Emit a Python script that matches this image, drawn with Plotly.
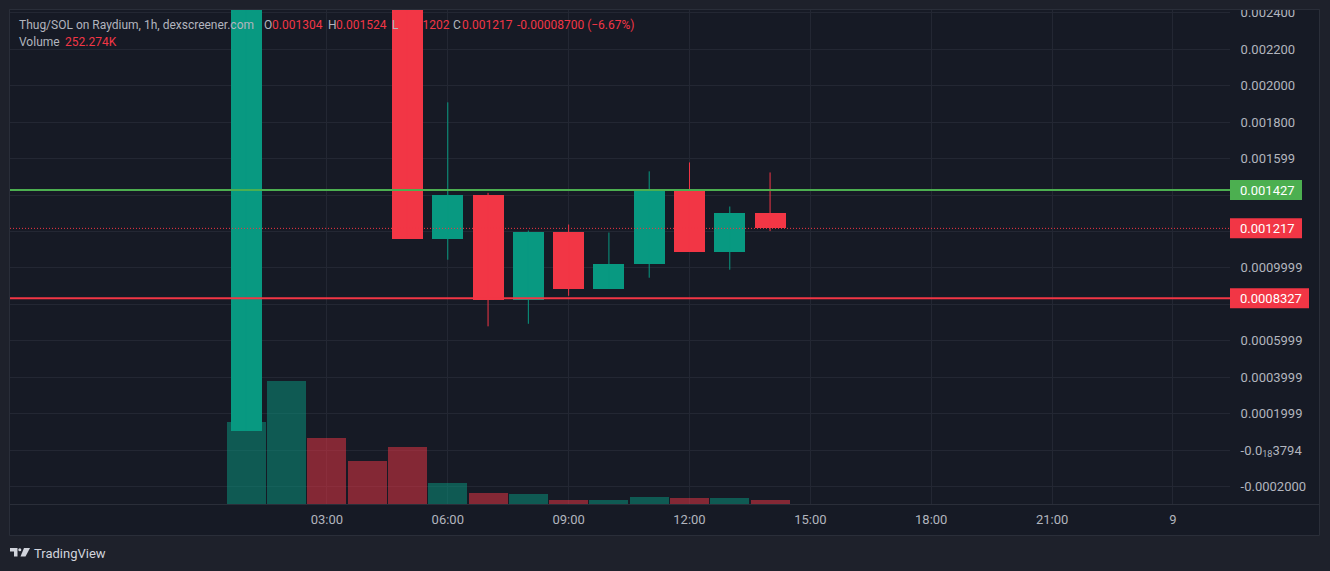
import plotly.graph_objects as go

# ---------------- data ----------------
times = ["2024-05-08 01:00", "2024-05-08 02:00", "2024-05-08 03:00", "2024-05-08 04:00",
         "2024-05-08 05:00", "2024-05-08 06:00", "2024-05-08 07:00", "2024-05-08 08:00",
         "2024-05-08 09:00", "2024-05-08 10:00", "2024-05-08 11:00", "2024-05-08 12:00",
         "2024-05-08 13:00", "2024-05-08 14:00"]
opens = [0.000105, 0.00380, 0.00450, 0.00330, 0.00280, 0.001161, 0.001398, 0.000825,
         0.001199, 0.000886, 0.001020, 0.001420, 0.001089, 0.001304]
highs = [0.00420, 0.00500, 0.00470, 0.00360, 0.00290, 0.001909, 0.001412, 0.001205,
         0.001238, 0.001194, 0.001530, 0.001579, 0.001337, 0.001524]
lows = [0.000105, 0.00310, 0.00300, 0.00260, 0.001161, 0.001045, 0.000679, 0.000693,
        0.000847, 0.000886, 0.000946, 0.001089, 0.000990, 0.001202]
closes = [0.00380, 0.00450, 0.00330, 0.00280, 0.001161, 0.001398, 0.000825, 0.001199,
          0.000886, 0.001020, 0.001420, 0.001089, 0.001304, 0.001217]
volumes = [5170000, 7760000, 4160000, 2710000, 3590000, 1320000, 694000, 631000,
           260000, 240000, 440000, 380000, 370000, 252274]

level_high = 0.001427
level_low = 0.0008327
last_price = closes[-1]

price_ticks = [0.0024, 0.0022, 0.0020, 0.0018, 0.0016, 0.0010,
               0.0006, 0.0004, 0.0002, 0.0, -0.0002]
price_tick_text = ["0.002400", "0.002200", "0.002000", "0.001800", "0.001599",
                   "0.0009999", "0.0005999", "0.0003999", "0.0001999",
                   "-0.0<sub>18</sub>3794", "-0.0002000"]
time_ticks = ["2024-05-08 03:00", "2024-05-08 06:00", "2024-05-08 09:00", "2024-05-08 12:00",
              "2024-05-08 15:00", "2024-05-08 18:00", "2024-05-08 21:00", "2024-05-09 00:00"]
time_tick_text = ["03:00", "06:00", "09:00", "12:00", "15:00", "18:00", "21:00", "9"]

# ---------------- style ----------------
UP = "#089981"
DOWN = "#f23645"
UP_VOL = "rgba(8,153,129,0.5)"
DOWN_VOL = "rgba(242,54,69,0.5)"
PANE = "#161a25"
OUTER = "#1e212b"
GRID = "#232733"
BORDER = "#2a2e39"
TXT = "#b2b5be"
FONT = "Roboto"

W, H = 1330, 571
L, R, T, B = 10, 1230, 10, 504  # plot area in pixels


def px(xp):
    return (xp - L) / (R - L)


def py(yp):
    return (B - yp) / (B - T)


HOUR = 3600000
is_up = [c >= o for o, c in zip(opens, closes)]
body_base = [min(o, c) for o, c in zip(opens, closes)]
body_h = [abs(c - o) for o, c in zip(opens, closes)]
body_col = [UP if u else DOWN for u in is_up]
vol_col = [UP_VOL if u else DOWN_VOL for u in is_up]

fig = go.Figure()

fig.add_trace(go.Bar(x=times, y=volumes, marker=dict(color=vol_col, line=dict(width=0)),
                     width=0.968 * HOUR, yaxis="y", hoverinfo="skip"))

fig.add_trace(go.Bar(x=times, y=body_h, base=body_base,
                     marker=dict(color=body_col, line=dict(width=0)),
                     width=0.77 * HOUR, yaxis="y2", hoverinfo="skip"))

for want_up, col in ((True, UP), (False, DOWN)):
    wx, wy = [], []
    for t, hi, lo, u in zip(times, highs, lows, is_up):
        if u == want_up:
            wx += [t, t, None]
            wy += [lo, hi, None]
    fig.add_trace(go.Scatter(x=wx, y=wy, mode="lines", line=dict(color=col, width=1),
                             yaxis="y2", hoverinfo="skip", connectgaps=False))

shapes = [
    # pane background / frame
    dict(type="rect", xref="paper", yref="paper", x0=px(9.5), x1=px(1319.5),
         y0=py(535.5), y1=py(9.5), fillcolor=PANE, line=dict(color=BORDER, width=1),
         layer="below"),
    # clip area above the pane (hides top half of the top price label)
    dict(type="rect", xref="paper", yref="paper", x0=px(1231), x1=px(1330),
         y0=py(9), y1=py(0), fillcolor=OUTER, line=dict(width=0), layer="above"),
    dict(type="line", xref="paper", yref="paper", x0=px(9.5), x1=px(1319.5),
         y0=py(9.5), y1=py(9.5), line=dict(color=BORDER, width=1), layer="above"),
    # time-axis separator
    dict(type="line", xref="paper", yref="paper", x0=px(10), x1=px(1319),
         y0=py(504.5), y1=py(504.5), line=dict(color=BORDER, width=1), layer="above"),
    # price lines
    dict(type="line", xref="paper", yref="y2", x0=0, x1=1, y0=level_high, y1=level_high,
         line=dict(color="#4caf50", width=2), layer="above"),
    dict(type="line", xref="paper", yref="y2", x0=0, x1=1, y0=level_low, y1=level_low,
         line=dict(color=DOWN, width=2), layer="above"),
    dict(type="line", xref="paper", yref="y2", x0=0, x1=1, y0=last_price, y1=last_price,
         line=dict(color=DOWN, width=1, dash="1px,2px"), layer="above"),
]

badges = [(level_high, "0.001427", "#4caf50", 1302),
          (last_price, f"{last_price:.6f}", DOWN, 1302),
          (level_low, "0.0008327", DOWN, 1309)]
annotations = []
for val, txt, col, xr in badges:
    shapes.append(dict(type="rect", xref="paper", yref="y2", x0=1.0, x1=px(xr),
                       ysizemode="pixel", yanchor=val, y0=-10, y1=10,
                       fillcolor=col, line=dict(width=0), layer="above"))
    annotations.append(dict(xref="paper", yref="y2", x=1.0, y=val, xanchor="left",
                            yanchor="middle", xshift=8, text=txt, showarrow=False,
                            font=dict(family=FONT, size=13, color="#ffffff")))

# header legend
chg = closes[-1] - opens[-1]
pct = chg / opens[-1] * 100
head1 = [(18, "Thug/SOL on Raydium, 1h, dexscreener.com", TXT),
         (263, "O", TXT), (271, f"{opens[-1]:.6f}", DOWN),
         (327, "H", TXT), (335, f"{highs[-1]:.6f}", DOWN),
         (391, "L", TXT), (398, f"{lows[-1]:.6f}", DOWN),
         (452, "C", TXT), (461, f"{closes[-1]:.6f}", DOWN),
         (516, f"{chg:.8f} ({pct:+.2f}%)".replace("+", "").replace("(-", "(\u2212"), DOWN)]
head2 = [(18, "Volume", TXT), (64, f"{volumes[-1] / 1000:.3f}K", DOWN)]
for xx, txt, col in head1:
    annotations.append(dict(xref="paper", yref="paper", x=px(xx - 1.5), y=py(25), xanchor="left",
                            yanchor="middle", text=txt, showarrow=False,
                            font=dict(family=FONT, size=12, color=col)))
for xx, txt, col in head2:
    annotations.append(dict(xref="paper", yref="paper", x=px(xx - 1.5), y=py(42), xanchor="left",
                            yanchor="middle", text=txt, showarrow=False,
                            font=dict(family=FONT, size=12, color=col)))

# TradingView logo + word mark
LOGO = "#d1d4dc"
def P(x, y):
    return f"{px(x)},{py(y)}"
shapes.append(dict(type="path", xref="paper", yref="paper",
                   path=f"M{P(10,548)} L{P(17.5,548)} L{P(17.5,556.5)} L{P(14,556.5)} L{P(14,551.5)} L{P(10,551.5)} Z",
                   fillcolor=LOGO, line=dict(width=0)))
shapes.append(dict(type="circle", xref="paper", yref="paper", x0=px(18.3), x1=px(21.3),
                   y0=py(551.3), y1=py(548.3), fillcolor=LOGO, line=dict(width=0)))
shapes.append(dict(type="path", xref="paper", yref="paper",
                   path=f"M{P(24,548)} L{P(30,548)} L{P(25.5,556.5)} L{P(20.5,556.5)} Z",
                   fillcolor=LOGO, line=dict(width=0)))
annotations.append(dict(xref="paper", yref="paper", x=px(32), y=py(553), xanchor="left",
                        yanchor="middle", text="TradingView", showarrow=False,
                        font=dict(family=FONT, size=13, color=LOGO)))

fig.update_layout(
    width=W, height=H,
    margin=dict(l=L, r=W - R, t=T, b=H - B, pad=0, autoexpand=False),
    paper_bgcolor=OUTER, plot_bgcolor=PANE,
    showlegend=False, barmode="overlay", bargap=0,
    xaxis=dict(type="date", range=["2024-05-07 19:08:00", "2024-05-09 01:25:00"],
               tickvals=time_ticks, ticktext=time_tick_text, showgrid=True,
               gridcolor=GRID, gridwidth=1, zeroline=False, showline=False,
               ticks="outside", ticklen=3, tickcolor=PANE, automargin=False,
               tickfont=dict(family=FONT, size=13, color=TXT)),
    yaxis=dict(range=[0, 31160000], visible=False, fixedrange=True, showgrid=False,
               automargin=False),
    yaxis2=dict(overlaying="y", side="right", range=[-0.0002965, 0.002416],
                tickvals=price_ticks, ticktext=price_tick_text, showgrid=True,
                gridcolor=GRID, gridwidth=1, zeroline=False, showline=False,
                ticks="outside", ticklen=7, tickcolor=PANE, automargin=False,
                minor=dict(tick0=0, dtick=0.0002, showgrid=True, gridcolor=GRID,
                           gridwidth=1, ticks=""),
                tickfont=dict(family=FONT, size=13, color=TXT)),
    shapes=shapes, annotations=annotations,
    font=dict(family=FONT, color=TXT),
)

fig.write_html("out.html")
